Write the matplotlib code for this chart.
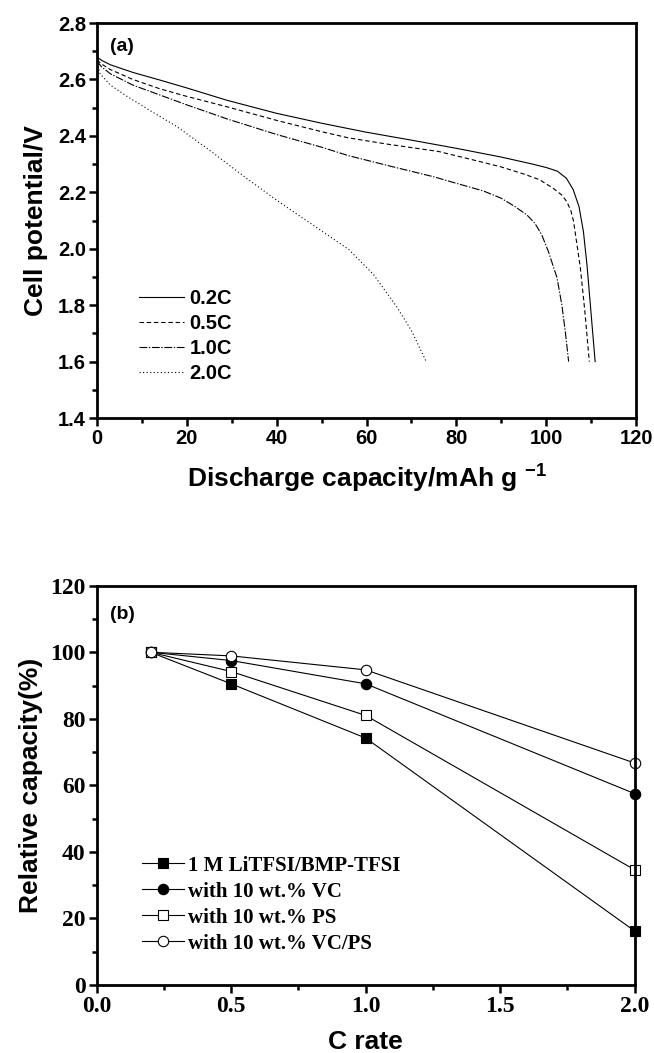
import matplotlib
matplotlib.use("Agg")
import matplotlib.pyplot as plt
from matplotlib.ticker import MultipleLocator, FormatStrFormatter

# ---------------- data (a) ----------------
cap_02 = [0, 1, 3, 8, 14, 20, 29, 40, 50, 60, 70, 80, 90, 97, 100, 102.5, 104.5, 106, 107.3, 108.3, 109.1, 110, 110.9]
v_02 = [2.68, 2.668, 2.652, 2.625, 2.598, 2.57, 2.526, 2.48, 2.445, 2.413, 2.385, 2.356, 2.325, 2.30, 2.288, 2.275, 2.25, 2.21, 2.15, 2.06, 1.94, 1.77, 1.60]

cap_05 = [0, 1, 3, 8, 14, 20, 29, 40, 50, 56, 65, 76, 85, 90, 95, 98.5, 101.6, 103.5, 104.6, 105.5, 106.1, 107.6, 108.6, 109.6]
v_05 = [2.67, 2.655, 2.635, 2.60, 2.567, 2.54, 2.503, 2.455, 2.415, 2.393, 2.37, 2.345, 2.31, 2.29, 2.265, 2.245, 2.214, 2.19, 2.167, 2.135, 2.097, 1.933, 1.78, 1.60]

cap_10 = [0, 1, 3, 8, 14, 20, 29, 40, 50, 56, 66, 75, 80, 86, 90, 93, 95.7, 97.5, 99, 100.5, 102.4, 103.5, 104.3, 105]
v_10 = [2.665, 2.645, 2.62, 2.58, 2.545, 2.51, 2.46, 2.405, 2.36, 2.33, 2.29, 2.255, 2.232, 2.205, 2.179, 2.15, 2.12, 2.09, 2.05, 1.99, 1.898, 1.80, 1.70, 1.60]

cap_20 = [0, 0.7, 3, 6.6, 12, 17.7, 25, 32.6, 40, 48, 56, 61.5, 66.7, 70, 73.3]
v_20 = [2.66, 2.62, 2.58, 2.541, 2.488, 2.434, 2.35, 2.258, 2.172, 2.085, 1.998, 1.91, 1.795, 1.71, 1.60]

rate_labels = ["0.2C", "0.5C", "1.0C", "2.0C"]

# ---------------- data (b) ----------------
c_rate = [0.2, 0.5, 1.0, 2.0]
rel_base = [100, 90.5, 74.2, 16.2]
rel_vc = [100, 97.5, 90.5, 57.5]
rel_ps = [100, 94.2, 81.0, 34.6]
rel_vcps = [100, 98.9, 94.7, 66.7]
series_labels = ["1 M LiTFSI/BMP-TFSI", "with 10 wt.% VC", "with 10 wt.% PS", "with 10 wt.% VC/PS"]

SANS = ["Liberation Sans", "DejaVu Sans"]
SERIF = ["Liberation Serif", "DejaVu Serif"]

plt.rcParams["mathtext.fontset"] = "custom"
plt.rcParams["mathtext.bf"] = "Liberation Sans:bold"
plt.rcParams["mathtext.rm"] = "Liberation Sans:bold"

fig = plt.figure(figsize=(6.54, 10.53), dpi=100)

spine_w = 2.0

def style_axes(ax, tickfam, size):
    for s in ax.spines.values():
        s.set_linewidth(spine_w)
    ax.tick_params(which="major", direction="out", length=6, width=1.8,
                   top=False, right=False, labelsize=size, pad=2)
    ax.tick_params(which="minor", direction="out", length=3.5, width=1.8,
                   top=False, right=False)
    for lab in ax.get_xticklabels() + ax.get_yticklabels():
        lab.set_family(tickfam)
        lab.set_fontweight("bold")

# ---------------- panel (a) ----------------
ax1 = fig.add_axes([0.1483, 0.6030, 0.8242, 0.3751])
lw = 0.8
ax1.plot(cap_02, v_02, color="black", lw=lw, ls="-", label=rate_labels[0])
ax1.plot(cap_05, v_05, color="black", lw=lw, dashes=(4, 2.5), label=rate_labels[1])
ax1.plot(cap_10, v_10, color="black", lw=lw, dashes=(7, 1.5, 1.2, 1.5), label=rate_labels[2])
ax1.plot(cap_20, v_20, color="black", lw=lw, dashes=(1, 2.2), label=rate_labels[3])
ax1.set_xlim(0, 120)
ax1.set_ylim(1.4, 2.8)
ax1.xaxis.set_major_locator(MultipleLocator(20))
ax1.xaxis.set_minor_locator(MultipleLocator(10))
ax1.yaxis.set_major_locator(MultipleLocator(0.2))
ax1.yaxis.set_minor_locator(MultipleLocator(0.1))
ax1.yaxis.set_major_formatter(FormatStrFormatter("%.1f"))
style_axes(ax1, SANS, 14.5)
ax1.set_xlabel(r"Discharge capacity/mAh g $^{\mathbf{-1}}$", family=SANS, fontweight="bold",
               fontsize=19, labelpad=9)
ax1.set_ylabel("Cell potential/V", family=SANS, fontweight="bold", fontsize=19, labelpad=7)
ax1.text(0.024, 0.94, "(a)", transform=ax1.transAxes, family=SANS, fontweight="bold",
         fontsize=14, va="center", ha="left")
ax1.legend(loc="upper left", bbox_to_anchor=(0.06, 0.353), frameon=False,
           prop={"family": SANS, "weight": "bold", "size": 14.5},
           handlelength=2.2, handletextpad=0.3, labelspacing=0.3, borderpad=0)

# ---------------- panel (b) ----------------
ax2 = fig.add_axes([0.1479, 0.0646, 0.8226, 0.3792])
ml = 0.8
ax2.plot(c_rate, rel_base, color="black", lw=ml, marker="s", ms=7, mfc="black", mec="black",
         mew=0.8, clip_on=False, label=series_labels[0])
ax2.plot(c_rate, rel_vc, color="black", lw=ml, marker="o", ms=7.5, mfc="black", mec="black",
         mew=0.8, clip_on=False, label=series_labels[1])
ax2.plot(c_rate, rel_ps, color="black", lw=ml, marker="s", ms=7, mfc="white", mec="black",
         mew=0.8, clip_on=False, label=series_labels[2])
ax2.plot(c_rate, rel_vcps, color="black", lw=ml, marker="o", ms=7.5, mfc="white", mec="black",
         mew=0.8, clip_on=False, label=series_labels[3])
ax2.set_xlim(0, 2.0)
ax2.set_ylim(0, 120)
ax2.xaxis.set_major_locator(MultipleLocator(0.5))
ax2.xaxis.set_minor_locator(MultipleLocator(0.25))
ax2.yaxis.set_major_locator(MultipleLocator(20))
ax2.yaxis.set_minor_locator(MultipleLocator(10))
ax2.xaxis.set_major_formatter(FormatStrFormatter("%.1f"))
style_axes(ax2, SERIF, 17)
ax2.set_xlabel("C rate", family=SANS, fontweight="bold", fontsize=19, labelpad=9)
ax2.set_ylabel("Relative capacity(%)", family=SANS, fontweight="bold", fontsize=19, labelpad=5)
ax2.text(0.024, 0.927, "(b)", transform=ax2.transAxes, family=SANS, fontweight="bold",
         fontsize=14, va="center", ha="left")
ax2.legend(loc="upper left", bbox_to_anchor=(0.065, 0.35), frameon=False,
           prop={"family": SERIF, "weight": "bold", "size": 15},
           handlelength=2.0, handletextpad=0.2, labelspacing=0.29, borderpad=0)

fig.savefig("out.png", dpi=100)
